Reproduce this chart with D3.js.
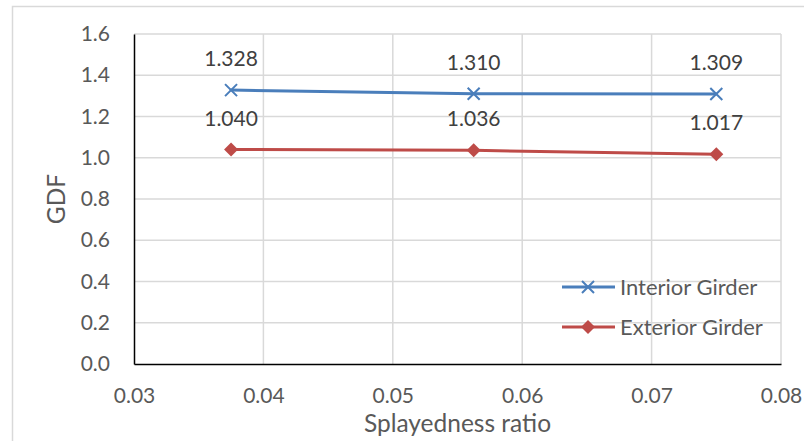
<!DOCTYPE html>
<html><head><meta charset="utf-8">
<script src="https://cdn.jsdelivr.net/npm/d3@7/dist/d3.min.js"></script>
<style>
body{margin:0;background:#fff;}
text{font-family:Lato, "Noto Sans", sans-serif;fill:#595959;}
</style></head>
<body><svg id="c" width="804" height="441"></svg>
<script>
const xValues = [0.0375, 0.05625, 0.075];
const interior = [1.328, 1.310, 1.309];
const exterior = [1.040, 1.036, 1.017];
const seriesNames = ["Interior Girder", "Exterior Girder"];
const xTicks = [0.03, 0.04, 0.05, 0.06, 0.07, 0.08];
const yTicks = [0, 0.2, 0.4, 0.6, 0.8, 1.0, 1.2, 1.4, 1.6];

const svg = d3.select("#c");
const L = 134, R = 781, T = 34, B = 364;
const x = d3.scaleLinear().domain([0.03, 0.08]).range([L, R]);
const y = d3.scaleLinear().domain([0, 1.6]).range([B, T]);
const fs = 21, fsTitle = 24.5, fsLeg = 22;

svg.append("rect").attr("x", 12.5).attr("y", 6.5).attr("width", 800).attr("height", 440)
  .attr("fill", "#fff").attr("stroke", "#d9d9d9").attr("stroke-width", 1.5);

// gridlines
const grid = svg.append("g");
grid.selectAll("line.h").data(yTicks.slice(1)).join("line")
  .attr("x1", L).attr("x2", R).attr("y1", d => y(d)).attr("y2", d => y(d))
  .attr("stroke", "#d9d9d9").attr("stroke-width", 1.5);
grid.selectAll("line.v").data(xTicks.slice(1)).join("line")
  .attr("y1", T).attr("y2", B).attr("x1", d => x(d)).attr("x2", d => x(d))
  .attr("stroke", "#d9d9d9").attr("stroke-width", 1.5);

// axes
const xAxis = d3.axisBottom(x).tickValues(xTicks).tickFormat(d3.format(".2f")).tickSize(0).tickPadding(24);
const gx = svg.append("g").attr("transform", `translate(0,${B})`).call(xAxis);
gx.select(".domain").attr("stroke", "#000").attr("stroke-width", 1.5);
gx.selectAll("text").attr("font-size", fs).style("font-family", "Lato").attr("fill", "#595959");

const yAxis = d3.axisLeft(y).tickValues(yTicks).tickFormat(d3.format(".1f")).tickSize(0).tickPadding(24);
const gy = svg.append("g").attr("transform", `translate(${L},0)`).call(yAxis);
gy.select(".domain").attr("stroke", "#000").attr("stroke-width", 1.5);
gy.selectAll("text").attr("font-size", fs).style("font-family", "Lato").attr("fill", "#595959");

// titles
svg.append("text").attr("x", (L + R) / 2).attr("y", 432).attr("text-anchor", "middle")
  .attr("font-size", fsTitle).text("Splayedness ratio");
svg.append("text").attr("transform", `translate(65,${(T + B) / 2}) rotate(-90)`)
  .attr("text-anchor", "middle").attr("font-size", fsTitle).text("GDF");

const colors = ["#4a7ebb", "#be4b48"];
const data = [interior, exterior];
const line = d3.line().x((d, i) => x(xValues[i])).y(d => y(d));

function drawMarker(g, k, cx, cy) {
  if (k === 0) {
    const s = 6;
    g.append("path").attr("d", `M${cx - s},${cy - s}L${cx + s},${cy + s}M${cx - s},${cy + s}L${cx + s},${cy - s}`)
      .attr("stroke", colors[0]).attr("stroke-width", 2).attr("fill", "none");
  } else {
    const s = 7;
    g.append("path").attr("d", `M${cx},${cy - s}L${cx + s},${cy}L${cx},${cy + s}L${cx - s},${cy}Z`)
      .attr("fill", colors[1]);
  }
}

data.forEach((vals, k) => {
  const g = svg.append("g");
  g.append("path").datum(vals).attr("d", line).attr("fill", "none")
    .attr("stroke", colors[k]).attr("stroke-width", 3).attr("stroke-linecap", "round");
  vals.forEach((v, i) => {
    drawMarker(g, k, x(xValues[i]), y(v));
    g.append("text").attr("x", x(xValues[i])).attr("y", y(v) - 24)
      .attr("text-anchor", "middle").attr("font-size", fs).style("fill", "#404040")
      .text(d3.format(".3f")(v));
  });
});

// legend
const legY = [287, 327];
seriesNames.forEach((n, k) => {
  const g = svg.append("g");
  g.append("line").attr("x1", 562).attr("x2", 615).attr("y1", legY[k]).attr("y2", legY[k])
    .attr("stroke", colors[k]).attr("stroke-width", 3);
  drawMarker(g, k, 588, legY[k]);
  g.append("text").attr("x", 620).attr("y", legY[k]).attr("dy", "0.35em")
    .attr("font-size", fsLeg).text(n);
});
</script></body></html>
